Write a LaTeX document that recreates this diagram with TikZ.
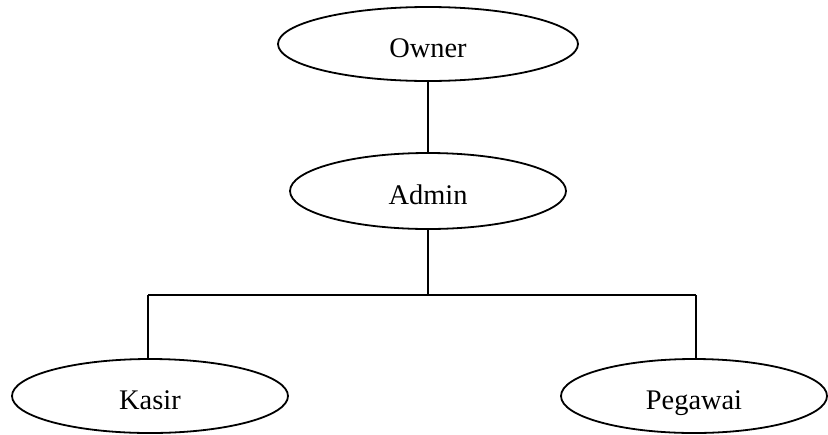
\documentclass[tikz,border=0pt]{standalone}
\usepackage{fontspec}
\setmainfont{Liberation Serif}
\usetikzlibrary{shapes.geometric}

\begin{document}
\begin{tikzpicture}[x=0.5pt, y=-0.5pt, line width=0.9pt]
    \tikzset{role/.style={ellipse, draw, inner sep=0pt,
        minimum height=37pt, text height=13.4pt, text depth=0pt,
        font=\fontsize{14.2}{17}\selectfont}}

    \useasboundingbox (0, 0) rectangle (828, 434);

    % Draw the roles
    \node[role, minimum width=150pt] (owner) at (428, 44) {Owner};
    \node[role, minimum width=138pt, minimum height=38pt] (admin) at (428, 191) {Admin};
    \node[role, minimum width=138pt] (kasir) at (150, 396) {Kasir};
    \node[role, minimum width=133pt] (pegawai) at (694, 396) {Pegawai};

    % Draw the branch
    \coordinate (mid) at (428, 295);
    \coordinate (left) at (148, 295);
    \coordinate (right) at (696, 295);

    \draw (owner) -- (admin);
    \draw (admin) -- (mid);
    \draw (left) -- (right);
    \draw (left) -- (left |- kasir.north);
    \draw (right) -- (right |- pegawai.north);
\end{tikzpicture}
\end{document}
